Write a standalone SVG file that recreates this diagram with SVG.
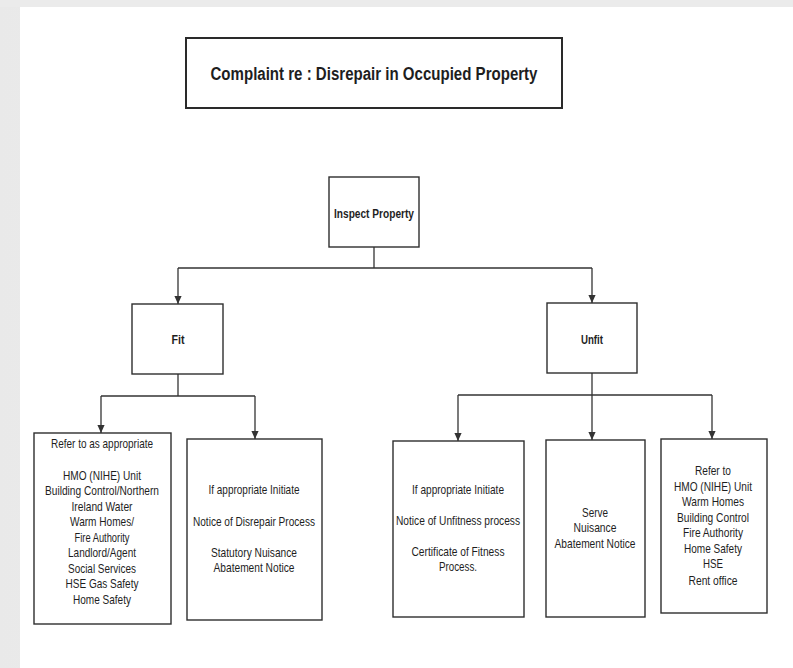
<svg xmlns="http://www.w3.org/2000/svg" width="793" height="668" viewBox="0 0 793 668">
<style>
.box{fill:#fff;stroke:#2e2e2e;stroke-width:1.4}
.tbox{fill:#fff;stroke:#2a2a2a;stroke-width:2}
.t{font-family:"Liberation Sans Narrow","Liberation Sans",Arial,sans-serif;font-size:13.5px;fill:#1e1e1e;text-anchor:middle}
.b{font-weight:bold}
.ttl{font-family:"Liberation Sans Narrow","Liberation Sans",Arial,sans-serif;font-size:18px;font-weight:bold;fill:#1e1e1e;text-anchor:middle}
.c{fill:none;stroke:#333;stroke-width:1.3}
</style>
<defs>
<marker id="ah" viewBox="0 0 10 10" refX="10" refY="5" markerWidth="9" markerHeight="8" markerUnits="userSpaceOnUse" orient="auto">
<path d="M0,0.5 L10,5 L0,9.5 z" fill="#333"/>
</marker>
<linearGradient id="lg" x1="0" y1="0" x2="1" y2="0">
<stop offset="0" stop-color="#e9e9e9"/>
<stop offset="1" stop-color="#fafafa"/>
</linearGradient>
</defs>
<rect x="0" y="0" width="793" height="668" fill="url(#lg)"/>
<rect x="0" y="0" width="793" height="7" fill="#ebebeb"/>
<rect x="20" y="7" width="773" height="661" fill="#fff"/>

<g id="connectors">
<path class="c" d="M374,247 V268"/>
<path class="c" d="M178,268 H592"/>
<path class="c" d="M178,268 V304" marker-end="url(#ah)"/>
<path class="c" d="M592,268 V303" marker-end="url(#ah)"/>
<path class="c" d="M178,374 V396"/>
<path class="c" d="M101,396 H255"/>
<path class="c" d="M101,396 V433" marker-end="url(#ah)"/>
<path class="c" d="M255,396 V439" marker-end="url(#ah)"/>
<path class="c" d="M592,373 V440" marker-end="url(#ah)"/>
<path class="c" d="M458,395 H712"/>
<path class="c" d="M458,395 V441" marker-end="url(#ah)"/>
<path class="c" d="M712,395 V439" marker-end="url(#ah)"/>
</g>

<g id="title">
<rect class="tbox" x="186" y="38" width="376" height="70"/>
<text class="ttl" x="374" y="80" textLength="327" lengthAdjust="spacingAndGlyphs">Complaint re : Disrepair in Occupied Property</text>
</g>

<g id="inspect">
<rect class="box" x="329" y="177" width="90" height="70"/>
<text class="t b" x="374" y="218" textLength="80" lengthAdjust="spacingAndGlyphs">Inspect Property</text>
</g>

<g id="fit">
<rect class="box" x="132" y="304" width="91" height="70"/>
<text class="t b" x="178" y="344" textLength="13" lengthAdjust="spacingAndGlyphs">Fit</text>
</g>

<g id="unfit">
<rect class="box" x="547" y="303" width="90" height="70"/>
<text class="t b" x="592" y="344" textLength="22" lengthAdjust="spacingAndGlyphs">Unfit</text>
</g>

<g id="fit-refer">
<rect class="box" x="34" y="433" width="137" height="191"/>
<text class="t" x="102" y="448" textLength="102" lengthAdjust="spacingAndGlyphs">Refer to as appropriate</text>
<text class="t" x="102" y="480" textLength="78" lengthAdjust="spacingAndGlyphs">HMO (NIHE) Unit</text>
<text class="t" x="102" y="495" textLength="114" lengthAdjust="spacingAndGlyphs">Building Control/Northern</text>
<text class="t" x="102" y="511" textLength="61" lengthAdjust="spacingAndGlyphs">Ireland Water</text>
<text class="t" x="102" y="526" textLength="64" lengthAdjust="spacingAndGlyphs">Warm Homes/</text>
<text class="t" x="102" y="542" textLength="55" lengthAdjust="spacingAndGlyphs">Fire Authority</text>
<text class="t" x="102" y="557" textLength="68" lengthAdjust="spacingAndGlyphs">Landlord/Agent</text>
<text class="t" x="102" y="573" textLength="68" lengthAdjust="spacingAndGlyphs">Social Services</text>
<text class="t" x="102" y="588" textLength="73" lengthAdjust="spacingAndGlyphs">HSE Gas Safety</text>
<text class="t" x="102" y="604" textLength="58" lengthAdjust="spacingAndGlyphs">Home Safety</text>
</g>

<g id="fit-disrepair">
<rect class="box" x="187" y="439" width="135" height="181"/>
<text class="t" x="254" y="494" textLength="91" lengthAdjust="spacingAndGlyphs">If appropriate Initiate</text>
<text class="t" x="254" y="526" textLength="122" lengthAdjust="spacingAndGlyphs">Notice of Disrepair Process</text>
<text class="t" x="254" y="557" textLength="86" lengthAdjust="spacingAndGlyphs">Statutory Nuisance</text>
<text class="t" x="254" y="572" textLength="81" lengthAdjust="spacingAndGlyphs">Abatement Notice</text>
</g>

<g id="unfit-notice">
<rect class="box" x="393" y="441" width="131" height="176"/>
<text class="t" x="458" y="494" textLength="92" lengthAdjust="spacingAndGlyphs">If appropriate Initiate</text>
<text class="t" x="458" y="525" textLength="124" lengthAdjust="spacingAndGlyphs">Notice of Unfitness process</text>
<text class="t" x="458" y="556" textLength="93" lengthAdjust="spacingAndGlyphs">Certificate of Fitness</text>
<text class="t" x="458" y="571" textLength="38" lengthAdjust="spacingAndGlyphs">Process.</text>
</g>

<g id="unfit-nuisance">
<rect class="box" x="546" y="440" width="99" height="177"/>
<text class="t" x="595" y="517" textLength="26" lengthAdjust="spacingAndGlyphs">Serve</text>
<text class="t" x="595" y="532" textLength="43" lengthAdjust="spacingAndGlyphs">Nuisance</text>
<text class="t" x="595" y="548" textLength="81" lengthAdjust="spacingAndGlyphs">Abatement Notice</text>
</g>

<g id="unfit-refer">
<rect class="box" x="661" y="439" width="106" height="174"/>
<text class="t" x="713" y="475" textLength="36" lengthAdjust="spacingAndGlyphs">Refer to</text>
<text class="t" x="713" y="491" textLength="78" lengthAdjust="spacingAndGlyphs">HMO (NIHE) Unit</text>
<text class="t" x="713" y="506" textLength="62" lengthAdjust="spacingAndGlyphs">Warm Homes</text>
<text class="t" x="713" y="522" textLength="72" lengthAdjust="spacingAndGlyphs">Building Control</text>
<text class="t" x="713" y="537" textLength="60" lengthAdjust="spacingAndGlyphs">Fire Authority</text>
<text class="t" x="713" y="553" textLength="58" lengthAdjust="spacingAndGlyphs">Home Safety</text>
<text class="t" x="713" y="568" textLength="20" lengthAdjust="spacingAndGlyphs">HSE</text>
<text class="t" x="713" y="585" textLength="49" lengthAdjust="spacingAndGlyphs">Rent office</text>
</g>
</svg>
